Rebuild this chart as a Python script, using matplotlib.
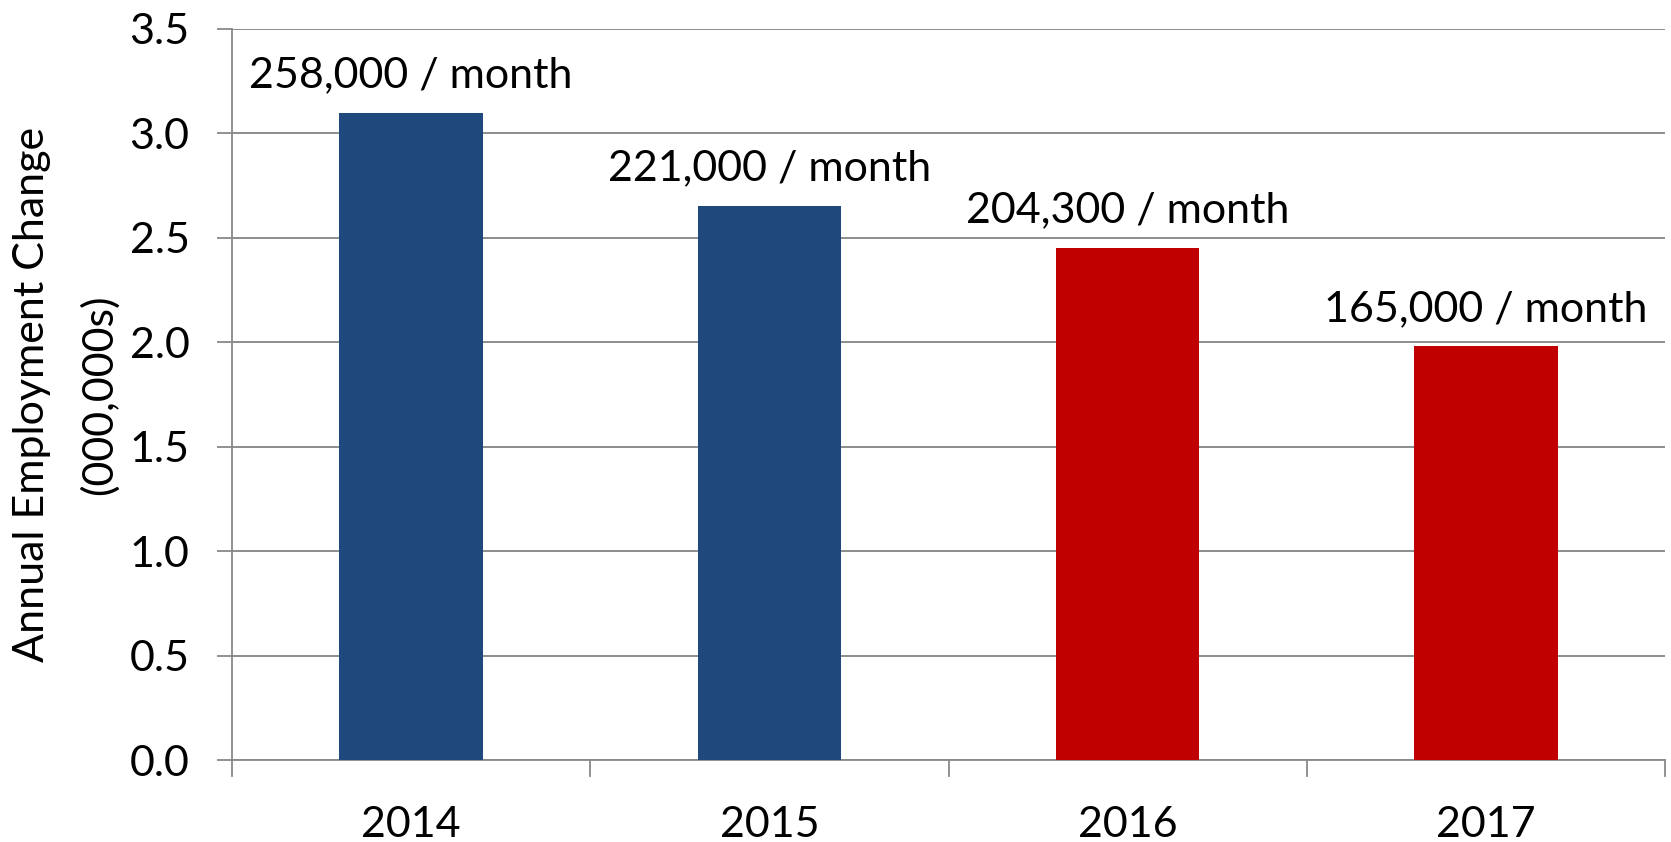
import matplotlib
matplotlib.use("Agg")
import matplotlib.pyplot as plt

years = ["2014", "2015", "2016", "2017"]
values = [3.096, 2.652, 2.4516, 1.98]
labels = ["258,000 / month", "221,000 / month", "204,300 / month", "165,000 / month"]
colors = ["#1F497D", "#1F497D", "#C00000", "#C00000"]
yticks = [0.0, 0.5, 1.0, 1.5, 2.0, 2.5, 3.0, 3.5]

plt.rcParams['font.family'] = ['Lato', 'DejaVu Sans']
FS = 31

fig = plt.figure(figsize=(16.71, 8.42), dpi=100)
ax = fig.add_axes([232/1671, 1-760/842, (1665-232)/1671, (760-28.8)/842])

x = list(range(len(years)))
ax.bar(x, values, width=0.40, color=colors, zorder=3)
for xi, v, lab in zip(x, values, labels):
    ax.annotate(lab, (xi, v), xytext=(0, 27), textcoords="offset points",
                ha="center", va="center", fontsize=FS, color="black")

ax.set_xlim(-0.5, len(years) - 0.5)
ax.set_ylim(0, 3.5)
ax.set_yticks(yticks)
ax.set_yticklabels([f"{t:.1f}" for t in yticks], fontsize=FS)
ax.set_xticks(x)
ax.set_xticklabels(years, fontsize=FS)
ax.tick_params(axis="x", length=0, pad=33)
ax.tick_params(axis="y", length=10.5, width=1.3, color="#898989", pad=20)
# category separator ticks
for b in [i - 0.5 for i in range(len(years) + 1)]:
    ax.plot([b, b], [0, -0.075], color="#898989", lw=1.3, clip_on=False, zorder=4)

ax.grid(axis="y", color="#8c8c8c", lw=1.4, zorder=0)
ax.set_axisbelow(True)
for s in ["top", "right"]:
    ax.spines[s].set_visible(False)
ax.spines["left"].set_color("#898989")
ax.spines["bottom"].set_color("#898989")
ax.spines["left"].set_linewidth(1.3)
ax.spines["bottom"].set_linewidth(1.3)

ax.set_ylabel("Annual Employment Change\n(000,000s)", fontsize=FS, labelpad=8, linespacing=1.85)

fig.savefig("out.png", dpi=100)
